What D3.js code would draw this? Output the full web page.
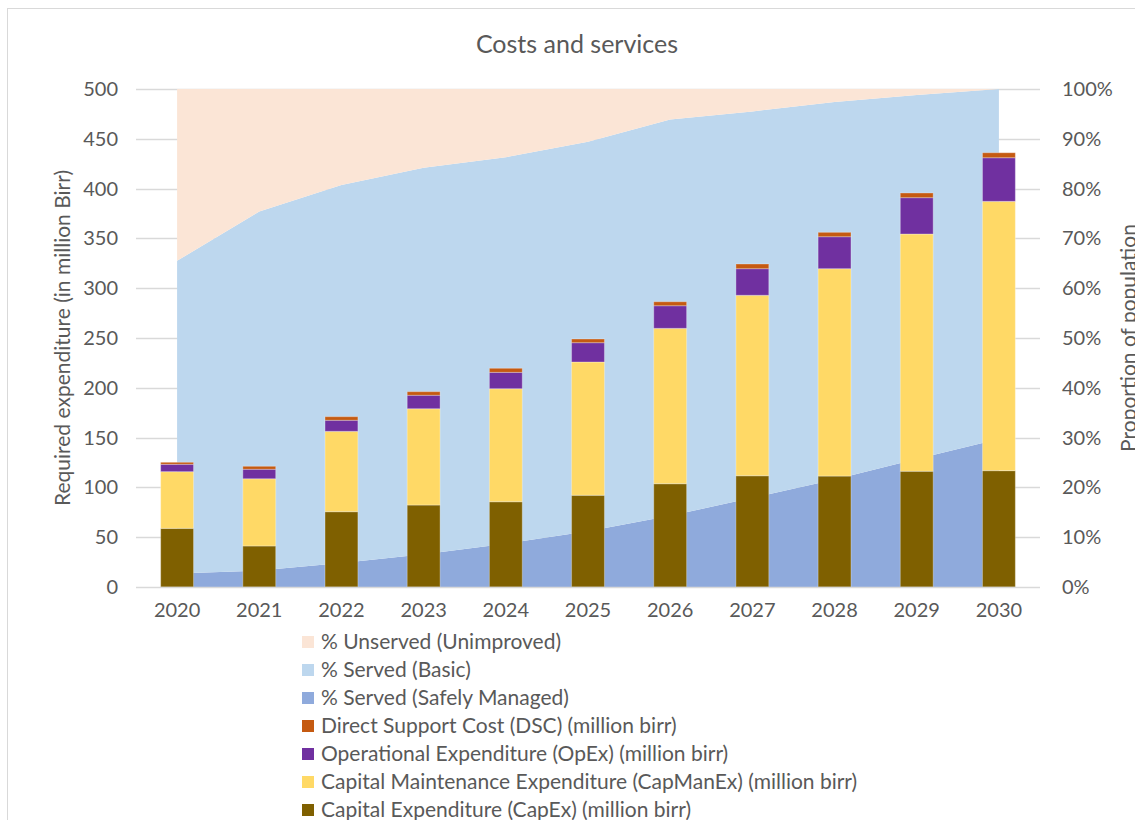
<!DOCTYPE html>
<html>
<head>
<meta charset="utf-8">
<script src="https://cdn.jsdelivr.net/npm/d3@7"></script>
<style>
  html, body { margin: 0; padding: 0; background: #ffffff; }
  svg { display: block; font-family: Lato, "Open Sans", sans-serif; }
</style>
</head>
<body>
<svg id="chart" width="1135" height="820"></svg>
<script>
// Years on the category axis
const years = ["2020", "2021", "2022", "2023", "2024", "2025", "2026", "2027", "2028", "2029", "2030"];

// Expenditure series (million birr), stacked bottom to top
const capex    = [58.9, 41.2, 75.6, 82.3, 85.6, 92.1, 103.7, 111.7, 111.4, 116.2, 116.8];
const capmanex = [56.9, 67.5, 80.7, 96.7, 113.5, 133.8, 156.0, 181.2, 208.2, 238.2, 270.4];
const opex     = [7.4, 9.5, 11.1, 13.5, 16.4, 19.4, 22.7, 26.7, 32.1, 36.5, 43.8];
const dsc      = [2.0, 3.0, 3.6, 3.6, 4.1, 3.7, 4.0, 4.7, 4.4, 4.7, 5.0];

// Population coverage (share of population)
const safelyManaged = [0.027, 0.033, 0.048, 0.066, 0.087, 0.112, 0.143, 0.179, 0.216, 0.257, 0.297];
const servedTotal   = [0.655, 0.754, 0.807, 0.842, 0.863, 0.894, 0.939, 0.955, 0.974, 0.988, 1.000];

// Axis ticks
const leftTicks  = [0, 50, 100, 150, 200, 250, 300, 350, 400, 450, 500];
const rightTicks = [0, 0.1, 0.2, 0.3, 0.4, 0.5, 0.6, 0.7, 0.8, 0.9, 1.0];

const barKeys = ["capex", "capmanex", "opex", "dsc"];
const areaKeys = ["safe", "basic", "unserved"];

const colors = {
  unserved: "#FBE5D6",
  basic:    "#BDD7EE",
  safe:     "#8FAADC",
  dsc:      "#C55A11",
  opex:     "#7030A0",
  capmanex: "#FFD966",
  capex:    "#7F6000"
};

const legendItems = [
  { key: "unserved", label: "% Unserved (Unimproved)" },
  { key: "basic",    label: "% Served (Basic)" },
  { key: "safe",     label: "% Served (Safely Managed)" },
  { key: "dsc",      label: "Direct Support Cost (DSC) (million birr)" },
  { key: "opex",     label: "Operational Expenditure (OpEx) (million birr)" },
  { key: "capmanex", label: "Capital Maintenance Expenditure (CapManEx) (million birr)" },
  { key: "capex",    label: "Capital Expenditure (CapEx) (million birr)" }
];

const textColor = "#595959";
const gridColor = "#D9D9D9";

const svg = d3.select("#chart");

// Outer chart frame
svg.append("rect")
  .attr("x", 7.5).attr("y", 8.5)
  .attr("width", 1200).attr("height", 900)
  .attr("fill", "#ffffff")
  .attr("stroke", "#D9D9D9").attr("stroke-width", 1);

const plot = { left: 136, right: 1040, top: 89, bottom: 587 };

const x = d3.scaleBand().domain(years).range([plot.left, plot.right]).padding(0);
const cx = d => x(d) + x.bandwidth() / 2;
const barW = x.bandwidth() * 0.4;

const yL = d3.scaleLinear().domain([0, 500]).range([plot.bottom, plot.top]);
const yR = d3.scaleLinear().domain([0, 1]).range([plot.bottom, plot.top]);

// Gridlines
svg.append("g")
  .selectAll("line")
  .data(leftTicks.filter(t => t > 0))
  .join("line")
  .attr("x1", plot.left).attr("x2", plot.right)
  .attr("y1", d => Math.round(yL(d)) + 0.5).attr("y2", d => Math.round(yL(d)) + 0.5)
  .attr("stroke", gridColor).attr("stroke-width", 1.5);

// Coverage areas
const areaRows = years.map((yr, i) => ({
  year: yr,
  safe: safelyManaged[i],
  basic: servedTotal[i] - safelyManaged[i],
  unserved: 1 - servedTotal[i]
}));
const areaStack = d3.stack().keys(areaKeys)(areaRows);
const area = d3.area()
  .x(d => cx(d.data.year))
  .y0(d => yR(d[0]))
  .y1(d => yR(d[1]))
  .curve(d3.curveLinear);

svg.append("g")
  .selectAll("path")
  .data(areaStack)
  .join("path")
  .attr("d", area)
  .attr("fill", d => colors[d.key]);

// Expenditure bars
const barRows = years.map((yr, i) => ({
  year: yr, capex: capex[i], capmanex: capmanex[i], opex: opex[i], dsc: dsc[i]
}));
const barStack = d3.stack().keys(barKeys)(barRows);

svg.append("g")
  .selectAll("g")
  .data(barStack)
  .join("g")
  .attr("fill", d => colors[d.key])
  .selectAll("rect")
  .data(d => d)
  .join("rect")
  .attr("x", d => cx(d.data.year) - barW / 2)
  .attr("width", barW)
  .attr("y", d => yL(d[1]))
  .attr("height", d => yL(d[0]) - yL(d[1]))
  .attr("stroke", "rgba(255,255,255,0.3)")
  .attr("stroke-width", 1);

// Category baseline
svg.append("line")
  .attr("x1", plot.left).attr("x2", plot.right)
  .attr("y1", plot.bottom + 0.5).attr("y2", plot.bottom + 0.5)
  .attr("stroke", gridColor).attr("stroke-width", 1.5);

// Left axis
const leftAxis = svg.append("g")
  .attr("transform", `translate(${plot.left - 18},0)`)
  .call(d3.axisLeft(yL).tickValues(leftTicks).tickSize(0).tickPadding(0));
leftAxis.select(".domain").remove();
leftAxis.selectAll("text")
  .attr("fill", textColor).attr("font-size", 20).attr("font-family", "Lato, sans-serif");

// Right axis
const rightAxis = svg.append("g")
  .attr("transform", `translate(${plot.right + 22},0)`)
  .call(d3.axisRight(yR).tickValues(rightTicks).tickFormat(d3.format(".0%")).tickSize(0).tickPadding(0));
rightAxis.select(".domain").remove();
rightAxis.selectAll("text")
  .attr("fill", textColor).attr("font-size", 20).attr("font-family", "Lato, sans-serif");

// Bottom axis
const bottomAxis = svg.append("g")
  .attr("transform", `translate(0,${plot.bottom + 16})`)
  .call(d3.axisBottom(x).tickSize(0).tickPadding(0));
bottomAxis.select(".domain").remove();
bottomAxis.selectAll("text")
  .attr("fill", textColor).attr("font-size", 20).attr("font-family", "Lato, sans-serif");

// Title
svg.append("text")
  .attr("x", 577).attr("y", 53)
  .attr("text-anchor", "middle")
  .attr("fill", textColor).attr("font-size", 25)
  .text("Costs and services");

// Axis titles
svg.append("text")
  .attr("transform", `translate(70,${(plot.top + plot.bottom) / 2}) rotate(-90)`)
  .attr("text-anchor", "middle")
  .attr("fill", textColor).attr("font-size", 21)
  .text("Required expenditure (in million Birr)");

svg.append("text")
  .attr("transform", `translate(1136,${(plot.top + plot.bottom) / 2}) rotate(-90)`)
  .attr("text-anchor", "middle")
  .attr("fill", textColor).attr("font-size", 21)
  .text("Proportion of population");

// Legend
const legend = svg.append("g").attr("transform", "translate(302,642)");
const rows = legend.selectAll("g")
  .data(legendItems)
  .join("g")
  .attr("transform", (d, i) => `translate(0,${i * 28})`);
rows.append("rect")
  .attr("x", 0).attr("y", -6)
  .attr("width", 12).attr("height", 12)
  .attr("fill", d => colors[d.key]);
rows.append("text")
  .attr("x", 19).attr("y", 0)
  .attr("dy", "0.35em")
  .attr("fill", textColor).attr("font-size", 21)
  .text(d => d.label);
</script>
</body>
</html>
